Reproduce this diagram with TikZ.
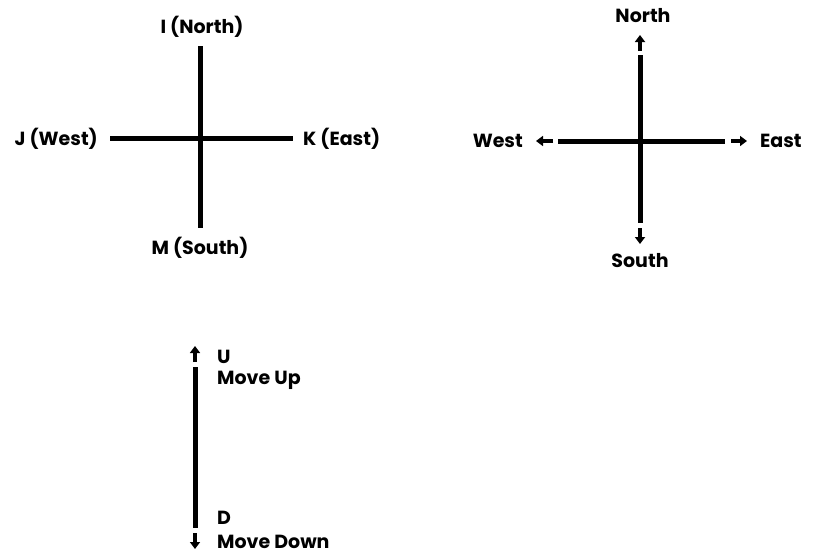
\documentclass[tikz,border=0pt]{standalone}
\usepackage{fontspec}
\setmainfont{Poppins}
\usetikzlibrary{arrows.meta}
\begin{document}
\begin{tikzpicture}[x=1pt,y=-1pt,
  lbl/.style={font=\fontsize{19}{21}\selectfont\bfseries, inner sep=0pt},
  axis/.style={line width=5pt},
  dirarrow/.style={line width=3.5pt, -{Triangle[width=10pt,length=7pt]}}]
\useasboundingbox (0,0) rectangle (816,557);
% left cross
\coordinate (ln) at (200,46);
\coordinate (ls) at (200,228);
\coordinate (lw) at (110,138);
\coordinate (le) at (293,138);
\draw[axis] (ln) -- (ls);
\draw[axis] (lw) -- (le);
\node[lbl] (I) at (202,27) {I (North)};
\node[lbl, anchor=east] (J) at (98,139) {J (West)};
\node[lbl, anchor=west] (K) at (303,139) {K (East)};
\node[lbl] (M) at (200,248) {M (South)};
% right cross
\coordinate (rn) at (640,55);
\coordinate (rs) at (640,223);
\coordinate (rw) at (558,141);
\coordinate (re) at (725,141);
\draw[axis] (rn) -- (rs);
\draw[axis] (rw) -- (re);
\coordinate (rna) at (640,51);
\coordinate (rnt) at (640,35);
\coordinate (rsa) at (640,228);
\coordinate (rst) at (640,244);
\coordinate (rwa) at (553,141);
\coordinate (rwt) at (536,141);
\coordinate (rea) at (731,141);
\coordinate (ret) at (747,141);
\draw[dirarrow] (rna) -- (rnt);
\draw[dirarrow] (rsa) -- (rst);
\draw[dirarrow] (rwa) -- (rwt);
\draw[dirarrow] (rea) -- (ret);
\node[lbl] (N) at (643,16) {North};
\node[lbl] (S) at (640,261) {South};
\node[lbl, anchor=east] (W) at (523,141) {West};
\node[lbl, anchor=west] (E) at (760,141) {East};
% bottom
\coordinate (bu) at (195,367);
\coordinate (bd) at (195,528);
\draw[axis] (bu) -- (bd);
\coordinate (bua) at (195,362);
\coordinate (but) at (195,346);
\coordinate (bda) at (195,533);
\coordinate (bdt) at (195,549);
\draw[dirarrow] (bua) -- (but);
\draw[dirarrow] (bda) -- (bdt);
\node[lbl, anchor=west] (U) at (217,357) {U};
\node[lbl, anchor=west] (MU) at (217,380) {Move Up};
\node[lbl, anchor=west] (D) at (217,518) {D};
\node[lbl, anchor=west] (MD) at (217,542) {Move Down};
\end{tikzpicture}
\end{document}
